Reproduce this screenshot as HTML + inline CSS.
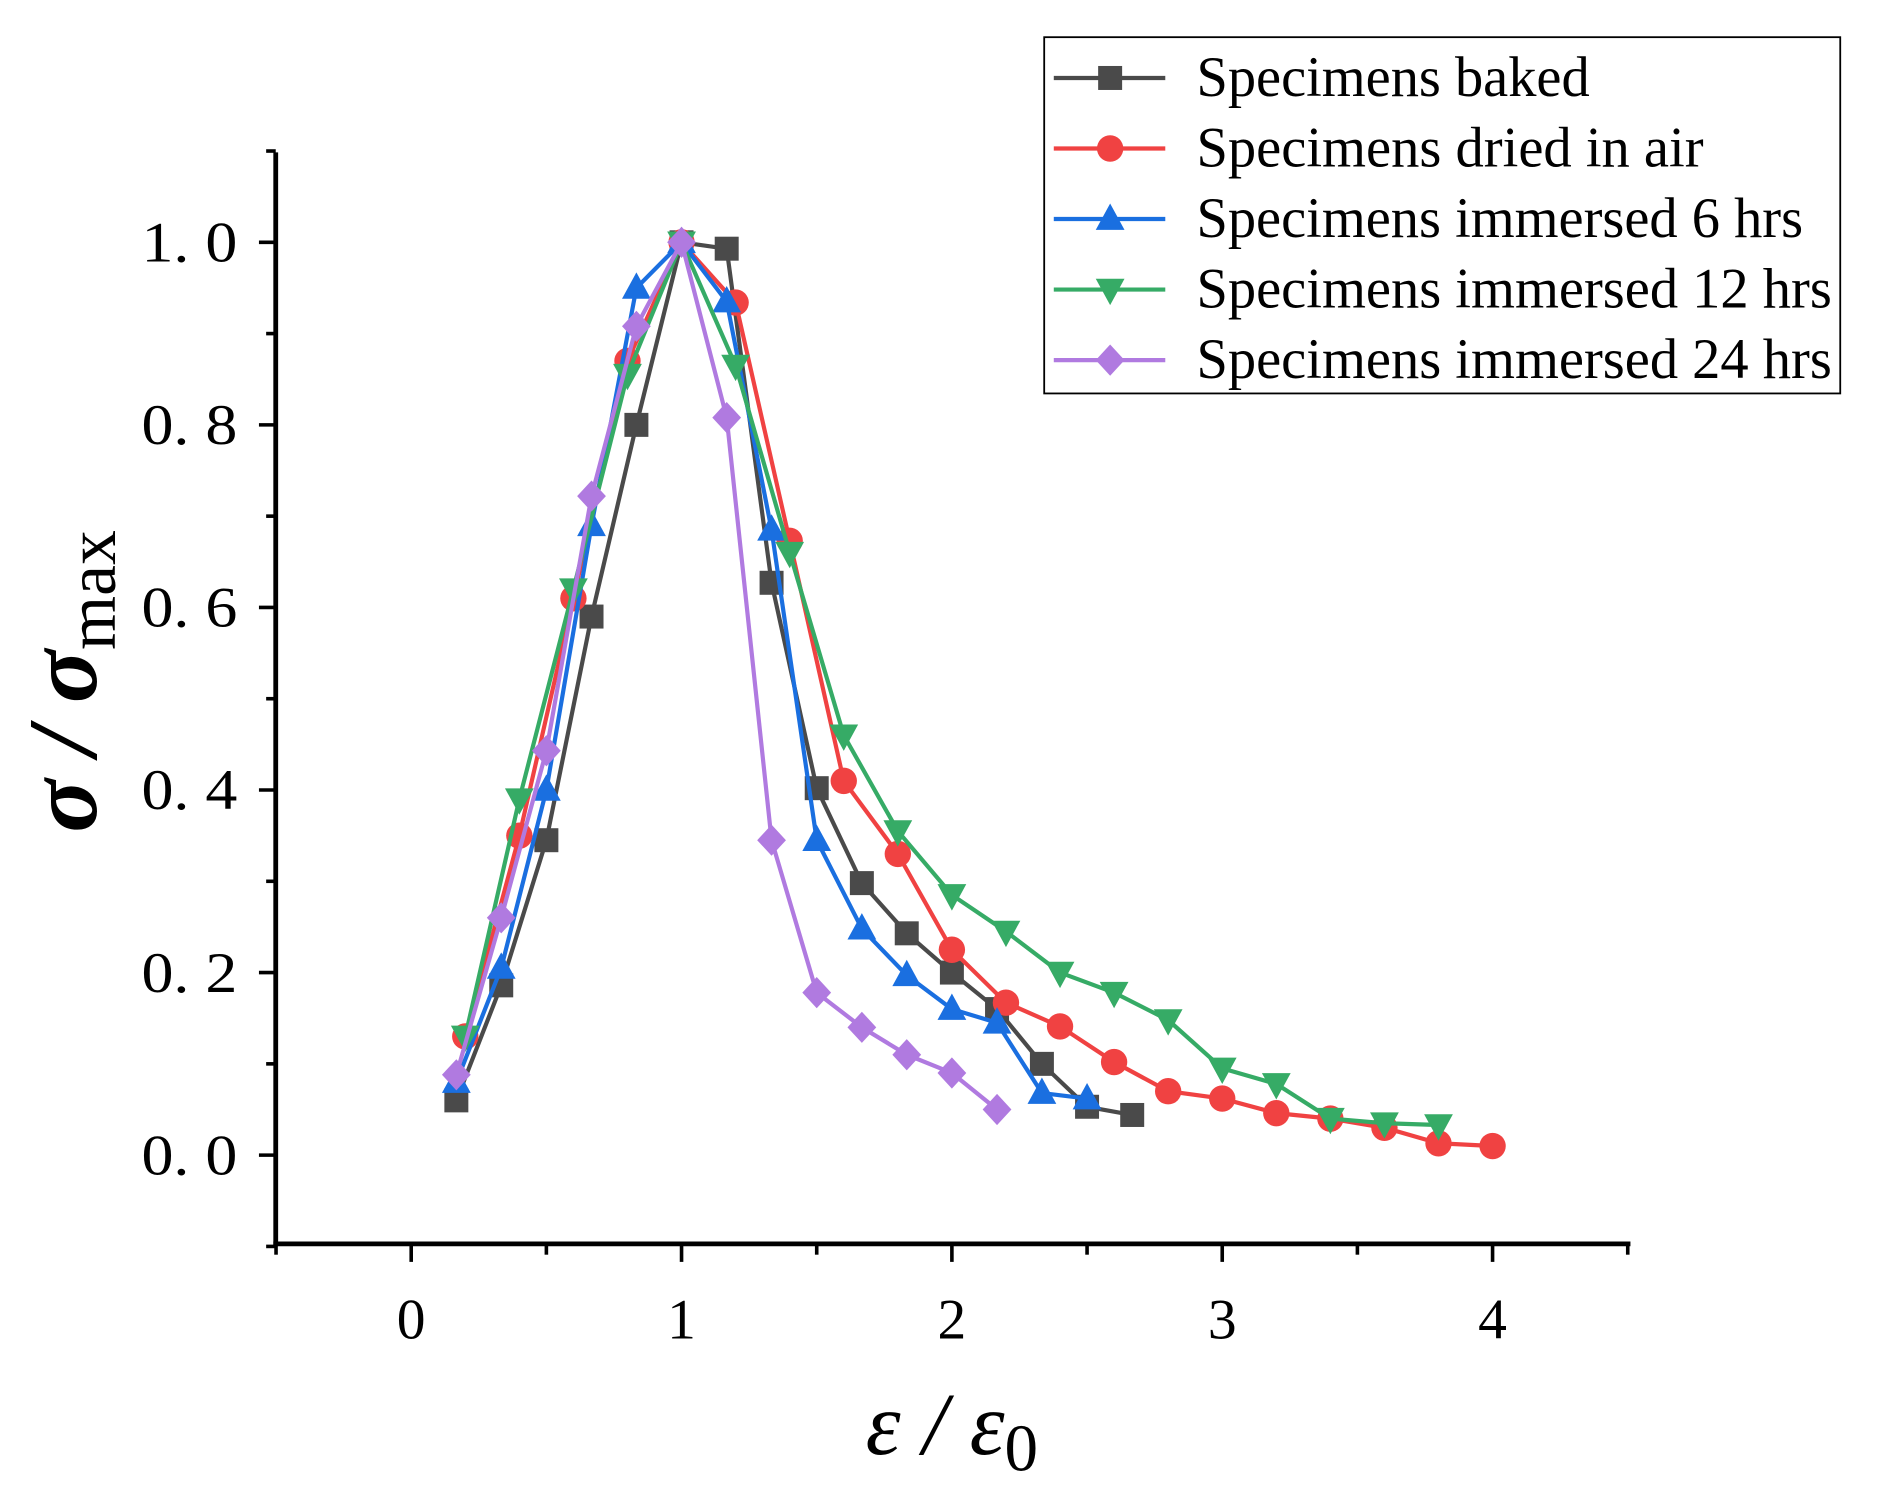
<!DOCTYPE html>
<html><head><meta charset="utf-8"><style>html,body{margin:0;padding:0;background:#fff}svg{display:block}text{font-family:"Liberation Serif",serif}</style></head>
<body>
<svg id="chart" width="1881" height="1497" viewBox="0 0 1569 1248" preserveAspectRatio="none" xmlns="http://www.w3.org/2000/svg">
<g id="axes"></g>
<g id="series"></g>
<g id="legend"></g>
<text x="794" y="1212" font-size="74" font-style="italic" text-anchor="middle">ε / ε<tspan font-size="56" dy="14" font-style="normal">0</tspan></text>
<text transform="translate(80,568) rotate(-90)" font-size="82" font-style="italic" font-weight="bold" text-anchor="middle">σ / σ<tspan font-size="58" dy="16" font-weight="normal" font-style="normal">max</tspan></text>
</svg>
<script>
const s6=[0.167,0.333,0.5,0.667,0.833,1,1.167,1.333,1.5,1.667,1.833,2,2.167,2.333,2.5,2.667];
const s5=[0.2,0.4,0.6,0.8,1.0,1.2,1.4,1.6,1.8,2.0,2.2,2.4,2.6,2.8,3.0,3.2,3.4,3.6,3.8,4.0];
const bakedX=s6.slice(0,16);
const bakedY=[0.06,0.186,0.345,0.59,0.80,1.0,0.993,0.627,0.402,0.298,0.243,0.2,0.16,0.10,0.053,0.044];
const airX=s5.slice(0,20);
const airY=[0.13,0.35,0.61,0.87,1.0,0.934,0.673,0.41,0.33,0.225,0.167,0.141,0.102,0.07,0.062,0.046,0.04,0.03,0.013,0.01];
const h6X=s6.slice(0,15);
const h6Y=[0.08,0.205,0.40,0.69,0.95,1.0,0.935,0.685,0.345,0.248,0.197,0.16,0.145,0.068,0.062];
const h12X=s5.slice(0,19);
const h12Y=[0.13,0.39,0.62,0.855,1.0,0.865,0.66,0.46,0.355,0.285,0.245,0.2,0.178,0.148,0.095,0.078,0.04,0.035,0.033];
const h24X=s6.slice(0,13);
const h24Y=[0.088,0.26,0.443,0.722,0.908,1.0,0.808,0.345,0.178,0.14,0.11,0.09,0.05];
const xTicks=[0,1,2,3,4];
const yTicks=[0,0.2,0.4,0.6,0.8,1.0];
const yTickLabels=["0. 0","0. 2","0. 4","0. 6","0. 8","1. 0"];
const legendLabels=["Specimens baked","Specimens dried in air","Specimens immersed 6 hrs","Specimens immersed 12 hrs","Specimens immersed 24 hrs"];

const NS="http://www.w3.org/2000/svg";
const X=v=>343+v*225.5, Y=v=>963-v*761;
function mk(t,a,p){const e=document.createElementNS(NS,t);for(const k in a)e.setAttribute(k,a[k]);p.appendChild(e);return e;}
const ax=document.getElementById('axes');
let e=mk('line',{x1:230,y1:127,x2:230,y2:1039,stroke:'#000','stroke-width':4},ax);

e=mk('line',{x1:228,y1:1037,x2:1360,y2:1037,stroke:'#000','stroke-width':4},ax);

for(let v=-0.1;v<=1.101;v+=0.1){const maj=Math.abs(Math.round(v*10)%2)===0;
 e=mk('line',{x1:maj?216:222,x2:230,y1:Y(v),y2:Y(v),stroke:'#000','stroke-width':3},ax);
 }
yTicks.forEach((v,i)=>{e=mk('text',{x:198,y:Y(v)+16,'font-size':48,'text-anchor':'end',textLength:80,lengthAdjust:'spacingAndGlyphs'},ax);e.textContent=yTickLabels[i];
 });
for(let v=-0.5;v<=4.51;v+=0.5){const maj=Math.abs(v-Math.round(v))<0.01;
 e=mk('line',{x1:X(v),x2:X(v),y1:1037,y2:maj?1052:1046,stroke:'#000','stroke-width':3},ax);
 }
xTicks.forEach(v=>{e=mk('text',{x:X(v),y:1116,'font-size':48,'text-anchor':'middle'},ax);e.textContent=String(v);
 });

function marker(type,x,y,c,p){let m;const r=10;
 if(type==='sq')m=mk('rect',{x:x-r,y:y-r,width:2*r,height:2*r,fill:c},p);
 else if(type==='ci')m=mk('circle',{cx:x,cy:y,r:r+1,fill:c},p);
 else if(type==='up')m=mk('polygon',{points:`${x},${y-13} ${x+12},${y+9} ${x-12},${y+9}`,fill:c},p);
 else if(type==='dn')m=mk('polygon',{points:`${x},${y+13} ${x+12},${y-9} ${x-12},${y-9}`,fill:c},p);
 else m=mk('polygon',{points:`${x},${y-13} ${x+12},${y} ${x},${y+13} ${x-12},${y}`,fill:c},p);
 return m;}
const defs=[[bakedX,bakedY,'#4a4a4a','sq','baked'],[airX,airY,'#f04242','ci','dried-in-air'],[h6X,h6Y,'#1a6fe0','up','immersed-6h'],[h12X,h12Y,'#36ab66','dn','immersed-12h'],[h24X,h24Y,'#b07ae0','di','immersed-24h']];
const sg=document.getElementById('series');
defs.forEach(d=>{const g=mk('g',{},sg);
 
 const pl=mk('polyline',{points:d[0].map((x,i)=>X(x)+','+Y(d[1][i])).join(' '),fill:'none',stroke:d[2],'stroke-width':3.5},g);
 
 d[0].forEach((x,i)=>{const m=marker(d[3],X(x),Y(d[1][i]),d[2],g);
  });});
const lg=document.getElementById('legend');
e=mk('rect',{x:871,y:31,width:664,height:297,fill:'#fff',stroke:'#000','stroke-width':1.5},lg);

const tl=[328,423,506,530,530];
defs.forEach((d,i)=>{const y=65+i*58.8;const g=mk('g',{},lg);
 
 mk('line',{x1:879,x2:972,y1:y,y2:y,stroke:d[2],'stroke-width':3.5},g);
 marker(d[3],926,y,d[2],g);
 const t=mk('text',{x:998,y:y+15,'font-size':48,textLength:tl[i],lengthAdjust:'spacingAndGlyphs'},g);t.textContent=legendLabels[i];});
</script>
</body></html>
